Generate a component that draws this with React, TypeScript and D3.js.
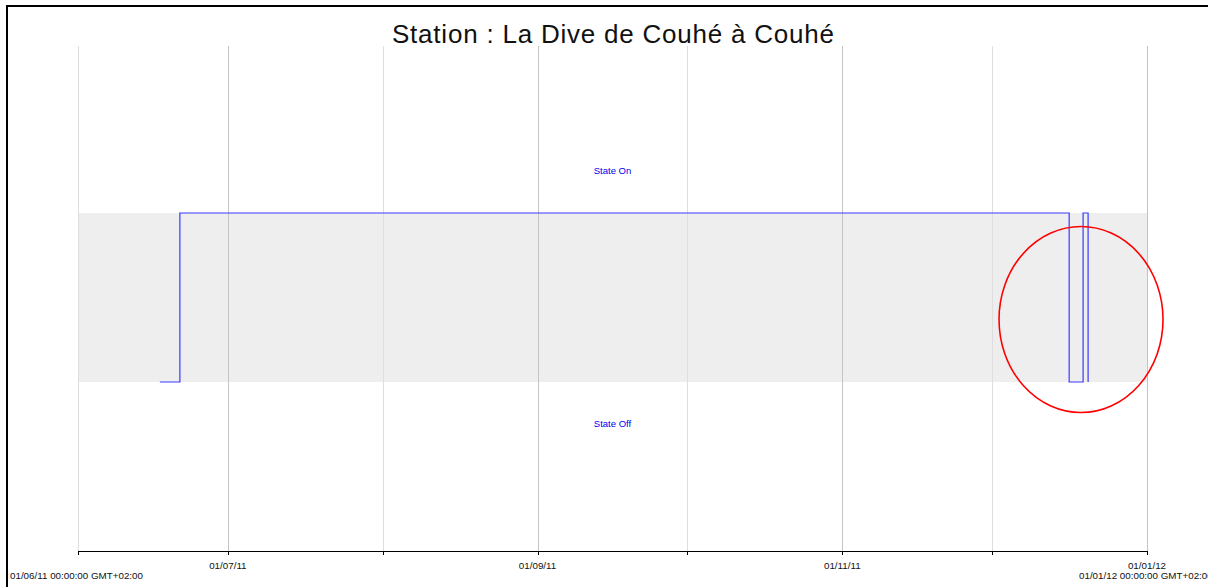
import React from "react";
import * as d3 from "d3";

// station state history (1 = on, 0 = off)
const stateDates = ["2011-06-17 09:30", "2011-06-21 09:30", "2011-12-16 10:00", "2011-12-19 05:00", "2011-12-20 05:00", "2011-12-20 05:00"];
const stateValues = [0, 1, 0, 1, 0, 0];

const monthTicks = ["2011-06-01 00:00", "2011-07-01 00:00", "2011-08-01 00:00", "2011-09-01 00:00", "2011-10-01 00:00", "2011-11-01 00:00", "2011-12-01 00:00", "2012-01-01 00:00"];
const labelledTicks = ["2011-07-01 00:00", "2011-09-01 00:00", "2011-11-01 00:00", "2012-01-01 00:00"];

const title = "Station : La Dive de Couhé à Couhé";
const startLabel = "01/06/11 00:00:00 GMT+02:00";
const endLabel = "01/01/12 00:00:00 GMT+02:00";
const highlightDate = "2011-12-18 19:00";
const highlightLevel = 0.37;

const W = 1208;
const H = 587;

const parse = d3.timeParse("%Y-%m-%d %H:%M");
const fmt = d3.timeFormat("%d/%m/%y");

const x = d3
  .scaleTime()
  .domain([parse("2011-06-01 00:00")!, parse("2012-01-01 00:00")!])
  .range([78, 1147]);
const y = d3.scaleLinear().domain([-1, 2]).range([551, 44]);

const App = () => {
  const pts: [Date, number][] = stateDates.map((d, i) => [parse(d)!, stateValues[i]]);
  const line = d3
    .line<[Date, number]>()
    .x((d) => x(d[0]))
    .y((d) => y(d[1]))
    .curve(d3.curveStepAfter);

  const [x0, x1] = x.range();
  const mid = (x0 + x1) / 2;
  const font = "'Liberation Sans', Arial, sans-serif";

  return (
    <svg
      width={W}
      height={H}
      style={{ position: "absolute", left: 0, top: 0, background: "#fff" }}
      fontFamily={font}
    >
      {/* frame */}
      <line x1={7} x2={W} y1={6} y2={6} stroke="#000" strokeWidth={2} />
      <line x1={7} x2={7} y1={5} y2={H} stroke="#000" strokeWidth={2} />

      {/* state band */}
      <rect x={x0} y={y(1)} width={x1 - x0} height={y(0) - y(1)} fill="#eeeeee" />

      {/* grid */}
      {monthTicks.map((t) => {
        const px = Math.round(x(parse(t)!)) + 0.5;
        const strong = labelledTicks.includes(t);
        return (
          <line
            key={t}
            x1={px}
            x2={px}
            y1={y(2) + 2}
            y2={y(-1)}
            stroke={strong ? "#c4c4c4" : "#dedede"}
            strokeWidth={1}
          />
        );
      })}

      <text x={613} y={43} textAnchor="middle" fontSize={26} fill="#111" textLength={442} lengthAdjust="spacing">
        {title}
      </text>

      <text x={mid} y={y(1.25) + 3} textAnchor="middle" fontSize={9.5} fill="#0000ee">
        State On
      </text>
      <text x={mid} y={y(-0.25) + 3} textAnchor="middle" fontSize={9.5} fill="#0000ee">
        State Off
      </text>

      {/* state line */}
      <path d={line(pts) || ""} fill="none" stroke="#3a3aff" strokeWidth={1.2} />

      {/* highlight */}
      <ellipse
        cx={x(parse(highlightDate)!)}
        cy={y(highlightLevel)}
        rx={82}
        ry={93}
        fill="none"
        stroke="#ff0000"
        strokeWidth={1.6}
      />

      {/* axis */}
      <line x1={x0} x2={x1} y1={y(-1) + 0.5} y2={y(-1) + 0.5} stroke="#000" strokeWidth={1} />
      {monthTicks.map((t) => {
        const px = Math.round(x(parse(t)!)) + 0.5;
        return <line key={"tk" + t} x1={px} x2={px} y1={y(-1)} y2={y(-1) + 4} stroke="#000" />;
      })}
      {labelledTicks.map((t) => (
        <text key={"lb" + t} x={x(parse(t)!)} y={y(-1) + 18} textAnchor="middle" fontSize={9.8} fill="#111">
          {fmt(parse(t)!)}
        </text>
      ))}
      <text x={10} y={579} fontSize={9.8} fill="#111">
        {startLabel}
      </text>
      <text x={1079} y={579} fontSize={9.8} fill="#111">
        {endLabel}
      </text>
    </svg>
  );
};

export default App;
